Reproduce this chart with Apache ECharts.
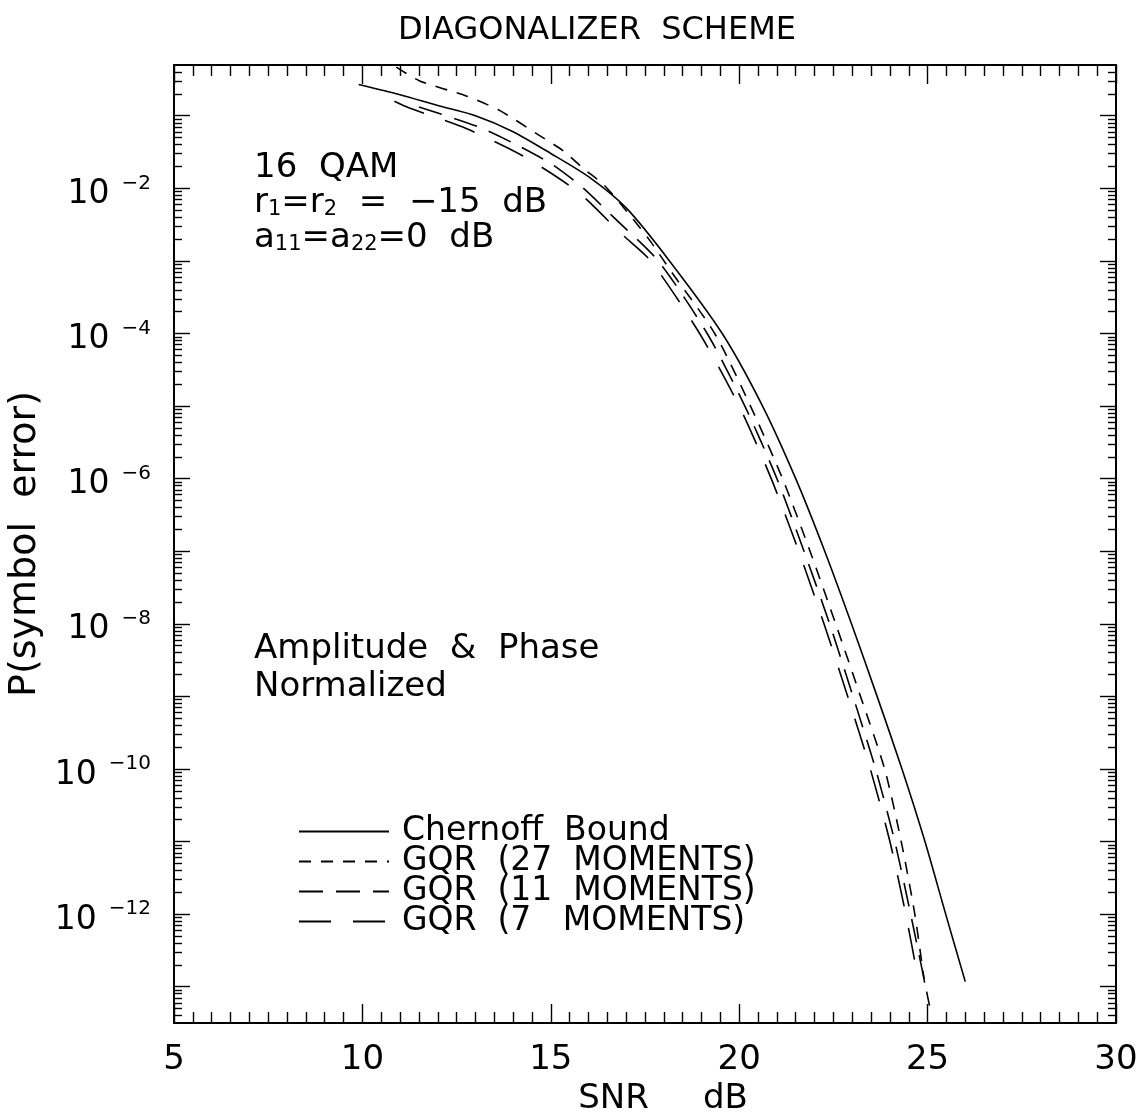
<!DOCTYPE html>
<html><head><meta charset="utf-8">
<script src="https://cdn.jsdelivr.net/npm/echarts@6/dist/echarts.min.js"></script>
<style>html,body{margin:0;padding:0;background:#fff}#c{width:1141px;height:1115px}</style>
</head><body><div id="c"></div>
<script>
// SNR (dB) and log10 P(symbol error)
const chernoffSNR = [9.9, 11, 12, 13, 14, 15, 16, 17, 18.15, 19.55, 20.62, 21.5, 22.27, 22.98, 23.66, 24.32, 24.93, 25.48, 26.0];
const chernoffLogP = [-0.57, -0.71, -0.86, -1.0, -1.22, -1.52, -1.84, -2.27, -3, -4, -5, -6, -7, -8, -9, -10, -11, -12, -12.93];
const gqr27SNR = [10.9, 11.52, 12.77, 13.65, 14.63, 15.32, 15.85, 16.38, 16.83, 17.6, 18.2, 19.35, 20.3, 21.15, 21.88, 22.56, 23.22, 23.86, 24.3, 24.66, 24.92];
const gqr27LogP = [-0.33, -0.52, -0.73, -0.93, -1.25, -1.48, -1.72, -1.94, -2.2, -2.7, -3.15, -4, -5, -6, -7, -8, -9, -10, -11, -12, -12.95];
const gqr11SNR = [11.5, 13.06, 14.05, 15.03, 15.82, 16.67, 17.85, 19.15, 20.15, 21.0, 21.72, 22.4, 23.02, 23.62, 24.13, 24.55, 25.05];
const gqr11LogP = [-0.88, -1.15, -1.39, -1.67, -1.98, -2.4, -3, -4, -5, -6, -7, -8, -9, -10, -11, -12, -13.26];
const gqr7SNR = [10.85, 11.23, 12.77, 14.28, 15.72, 16.88, 17.65, 18.95, 20.0, 20.85, 21.58, 22.25, 22.88, 23.48, 24.0, 24.42, 24.75];
const gqr7LogP = [-0.8, -0.89, -1.18, -1.56, -2.05, -2.63, -3, -4, -5, -6, -7, -8, -9, -10, -11, -12, -12.9];
const seriesNames = ['Chernoff  Bound', 'GQR  (27  MOMENTS)', 'GQR  (11  MOMENTS)', 'GQR  (7   MOMENTS)'];
const xTicks = [5, 10, 15, 20, 25, 30];
const yLabelExps = [-12, -10, -8, -6, -4, -2];
const yMajorExps = [-13, -12, -11, -10, -9, -8, -7, -6, -5, -4, -3, -2, -1];
const yMin = -13.5, yMax = Math.log10(0.5);

const FONT = "'DejaVu Sans', sans-serif";
const yMinor = [];
for (let d = -14; d <= 0; d++) for (let k = 2; k <= 9; k++) {
  const v = d + Math.log10(k);
  if (v > yMin && v < yMax) yMinor.push(v);
}
const zip = (a, b) => a.map((v, i) => [v, b[i]]);
const supFmt = v => '{b|10}{e|' + (Math.round(v) < 0 ? '\u2212' : '') + Math.abs(Math.round(v)) + '}';

const chart = echarts.init(document.getElementById('c'), null, {renderer: 'canvas'});
const lineBase = {color: '#000', width: 1.6};
const yCommon = (pos, ticks, len, show) => ({
  type: 'value', min: yMin, max: yMax, position: pos, gridIndex: 0,
  axisLine: {show: show, lineStyle: {color: '#000', width: 2}},
  axisTick: {show: true, inside: true, length: len, customValues: ticks, lineStyle: {color: '#000', width: 1.4}},
  axisLabel: {show: false}, splitLine: {show: false}
});
const xCommon = (pos, labels) => ({
  type: 'value', min: 5, max: 30, interval: 5, position: pos, gridIndex: 0,
  axisLine: {show: true, lineStyle: {color: '#000', width: 2}},
  axisTick: {show: true, inside: true, length: 19, lineStyle: {color: '#000', width: 1.4}},
  minorTick: {show: true, splitNumber: 10, length: 11, lineStyle: {color: '#000', width: 1.4}},
  splitLine: {show: false},
  axisLabel: labels ? {show: true, margin: 20, fontFamily: FONT, fontSize: 34, color: '#000', customValues: xTicks} : {show: false}
});

const yLeft = yCommon('left', yMajorExps, 16, true);
yLeft.axisLabel = {show: true, margin: 23, customValues: yLabelExps, formatter: supFmt,
  rich: {b: {fontFamily: FONT, fontSize: 33, color: '#000', padding: [12, 12, 0, 0]}, e: {fontFamily: FONT, fontSize: 20, color: '#000', padding: [0, 0, 10, 0]}}};
yLeft.name = 'P(symbol  error)';
yLeft.nameLocation = 'middle';
yLeft.nameGap = 120;
yLeft.nameRotate = 90;
yLeft.nameTextStyle = {fontFamily: FONT, fontSize: 38, color: '#000'};

const xBottom = xCommon('bottom', true);
xBottom.name = 'SNR     dB';
xBottom.nameLocation = 'middle';
xBottom.nameGap = 63;
xBottom.nameTextStyle = {fontFamily: FONT, fontSize: 34, color: '#000', verticalAlign: 'middle', padding: [0, 0, 0, 36]};

chart.setOption({
  backgroundColor: '#fff',
  animation: false,
  title: {text: 'DIAGONALIZER  SCHEME', left: 393, top: 10,
    textStyle: {fontFamily: FONT, fontSize: 32, fontWeight: 'normal', color: '#000'}},
  grid: {left: 174, right: 25, top: 65, bottom: 92, containLabel: false, outerBoundsMode: 'none'},
  xAxis: [xBottom, xCommon('top', false)],
  yAxis: [yLeft, yCommon('left', yMinor, 8, false), yCommon('right', yMajorExps, 16, true), yCommon('right', yMinor, 8, false)],
  legend: {
    orient: 'vertical', left: 293, top: 810, itemWidth: 90, itemHeight: 30, itemGap: -3,
    itemStyle: {opacity: 0},
    textStyle: {fontFamily: FONT, fontSize: 33, lineHeight: 30, color: '#000', padding: [0, 0, 0, 8]},
    data: seriesNames
  },
  graphic: [
    {type: 'text', left: 254, top: 151, style: {text: '16  QAM', font: '34px ' + FONT, fill: '#000'}},
    {type: 'text', left: 254, top: 186, style: {
      text: 'r{s|1}=r{s|2}  =  \u221215  dB', font: '34px ' + FONT, fill: '#000',
      rich: {s: {fontSize: 21, fontFamily: FONT, padding: [14, 0, 0, 0]}}}},
    {type: 'text', left: 254, top: 221, style: {
      text: 'a{s|11}=a{s|22}=0  dB', font: '34px ' + FONT, fill: '#000',
      rich: {s: {fontSize: 21, fontFamily: FONT, padding: [14, 0, 0, 0]}}}},
    {type: 'text', left: 254, top: 632, style: {text: 'Amplitude  &  Phase', font: '34px ' + FONT, fill: '#000'}},
    {type: 'text', left: 254, top: 670, style: {text: 'Normalized', font: '34px ' + FONT, fill: '#000'}}
  ],
  series: [
    {name: seriesNames[0], type: 'line', symbol: 'none', smooth: 0.25, data: zip(chernoffSNR, chernoffLogP),
      lineStyle: Object.assign({}, lineBase, {type: 'solid'}), itemStyle: {color: '#000'}},
    {name: seriesNames[1], type: 'line', symbol: 'none', smooth: 0.25, data: zip(gqr27SNR, gqr27LogP),
      lineStyle: Object.assign({}, lineBase, {type: [12, 10]}), itemStyle: {color: '#000'}},
    {name: seriesNames[2], type: 'line', symbol: 'none', smooth: 0.25, data: zip(gqr11SNR, gqr11LogP),
      lineStyle: Object.assign({}, lineBase, {type: [24, 13]}), itemStyle: {color: '#000'}},
    {name: seriesNames[3], type: 'line', symbol: 'none', smooth: 0.25, data: zip(gqr7SNR, gqr7LogP),
      lineStyle: Object.assign({}, lineBase, {type: [32, 22]}), itemStyle: {color: '#000'}}
  ]
});
</script></body></html>
